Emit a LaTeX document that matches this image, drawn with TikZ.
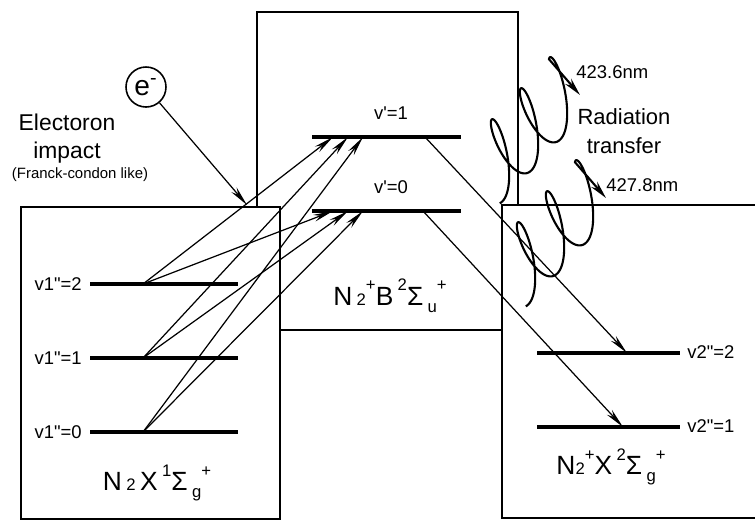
\documentclass[tikz,border=0pt]{standalone}
\usepackage{fontspec}
\setmainfont{Liberation Sans}
\usetikzlibrary{arrows.meta}

\newcommand\stsm[1]{{\fontsize{9.5}{10}\selectfont #1}}
\newcommand\stlo[1]{\raisebox{-0.5ex}{\fontsize{9.5}{10}\selectfont #1}}
\newcommand\sthi[1]{\raisebox{1.05ex}{\fontsize{9.5}{10}\selectfont #1}}

\begin{document}
\begin{tikzpicture}[x=0.2mm, y=-0.2mm,
    box/.style={draw, line width=1.1pt},
    level/.style={line width=1.8pt},
    trans/.style={line width=0.7pt, -{Stealth[length=4mm, width=1.4mm]}},
    photon/.style={line width=1.2pt, -{Stealth[length=3.6mm, width=1.6mm]}},
    lab/.style={font=\fontsize{10.5}{12}\selectfont, inner sep=0pt},
    state/.style={font=\fontsize{15}{18}\selectfont, inner sep=0pt}]
    \useasboundingbox (0,0) rectangle (755,521);
    % potential boxes
    \draw[box] (257,12) rectangle (518,330);
    \draw[box, fill=white] (21,207) rectangle (280,519);
    \fill[white] (502,205) rectangle (755,518);
    \draw[box] (755,205) -- (502,205) -- (502,518) -- (755,518);
    % vibrational levels
    \foreach \n/\y in {2/284, 1/358, 0/432} {
        \draw[level] (90,\y) -- (238,\y);
        \coordinate (g\n) at (143,\y);
        \node[lab, anchor=east] (lg\n) at (82,\y) {v1\textquotedbl=\n};
    }
    \foreach \n/\y in {1/137, 0/211} {
        \draw[level] (312,\y) -- (461,\y);
        \node[lab] (lb\n) at (391,\y-24) {v\textquotesingle=\n};
        \coordinate (b\n a) at (333,\y);
        \coordinate (b\n b) at (348,\y);
        \coordinate (b\n c) at (363,\y);
    }
    \coordinate (b1e) at (425,137);
    \coordinate (b0e) at (423,211);
    \foreach \n/\y/\x in {2/353/627, 1/427/623} {
        \draw[level] (537,\y) -- (680,\y);
        \coordinate (x\n) at (\x,\y);
        \node[lab, anchor=west] (lx\n) at (687,\y-1) {v2\textquotedbl=\n};
    }
    % state labels
    \node[state] (sg) at (157,483) {N\,\stsm{2}\,X\,\sthi{1}Σ\,\stlo{g}\sthi{+}};
    \node[state] (sb) at (390,296) {N\,\stsm{2}\sthi{+}B\,\sthi{2}Σ\,\stlo{u}\sthi{+}};
    \node[state] (sx) at (611,467) {N\stsm{2}\sthi{+}X\,\sthi{2}Σ\,\stlo{g}\sthi{+}};
    % electron impact
    \node[draw, circle, line width=0.9pt, minimum size=8mm, inner sep=0pt,
          font=\fontsize{16}{16}\selectfont] (elec) at (146,87) {e\textsuperscript{-}};
    \coordinate (hit) at (247,205);
    \draw[trans] (elec) -- (hit);
    \node[font=\fontsize{13}{16}\selectfont, align=center] (imp) at (67,139) {Electoron\\impact};
    \node[font=\fontsize{8.5}{10}\selectfont] (fc) at (80,175) {(Franck-condon like)};
    % excitation and emission
    \foreach \g/\e in {2/a, 1/b, 0/c} {
        \draw[trans] (g\g) -- (b1\e);
        \draw[trans] (g\g) -- (b0\e);
    }
    \draw[trans] (b1e) -- (x2);
    \draw[trans] (b0e) -- (x1);
    % radiation
    \foreach \dx/\dy/\k in {0/0/1, 26/103/2} {
        \begin{scope}[shift={(\dx,\dy)}]
            \coordinate (ph\k) at (580,95);
            \draw[photon] plot[domain=0:16.1, samples=180, smooth]
                ({489 + \x/6.2832*29 + 36*0.3*cos(\x r) + 12*0.954*sin(\x r)},
                 {169 - \x/6.2832*31 + 36*0.954*cos(\x r) - 12*0.3*sin(\x r)}) -- (ph\k);
        \end{scope}
    }
    \node[lab, anchor=west] (w1) at (576,72) {423.6nm};
    \node[lab, anchor=west] (w2) at (606,185) {427.8nm};
    \node[font=\fontsize{12.5}{16.5}\selectfont, align=center] (rad) at (624,131) {Radiation\\transfer};
\end{tikzpicture}
\end{document}
